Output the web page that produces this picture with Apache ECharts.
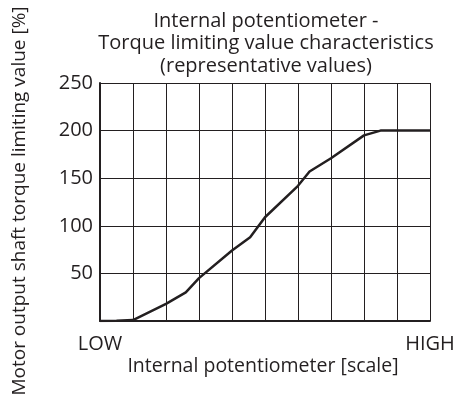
<!DOCTYPE html>
<html>
<head>
<meta charset="utf-8">
<script src="https://cdn.jsdelivr.net/npm/echarts@6/dist/echarts.min.js"></script>
<style>
  html, body { margin: 0; padding: 0; background: #fff; }
  #chart { width: 464px; height: 401px; }
</style>
</head>
<body>
<div id="chart"></div>
<script>
// Potentiometer position (0 = LOW, 10 = HIGH) vs torque limit [%]
const potPosition = [0, 0.5, 1, 2, 2.6, 3, 4, 4.55, 5, 6, 6.35, 7, 8, 8.5, 10];
const torqueLimit = [0, 0.2, 1, 18, 30, 45, 74, 88, 109, 142, 157, 171, 195, 200, 200];
const xEndLabels = { 0: 'LOW', 10: 'HIGH' };
const yTicks = [50, 100, 150, 200, 250];

const titleLines = [
  'Internal potentiometer -',
  'Torque limiting value characteristics',
  '(representative values)'
];
const xName = 'Internal potentiometer [scale]';
const yName = 'Motor output shaft torque limiting value [%]';

const ink = '#231f20';
const font = 'Open Sans';

const chart = echarts.init(document.getElementById('chart'), null, { renderer: 'canvas' });

function label(text, x, y, size, rotation) {
  return {
    type: 'text',
    x: x,
    y: y,
    rotation: rotation || 0,
    style: {
      text: text,
      fontFamily: font,
      fontSize: size,
      fill: ink,
      textAlign: 'center',
      textVerticalAlign: 'middle'
    }
  };
}

chart.setOption({
  animation: false,
  backgroundColor: '#fff',
  textStyle: { fontFamily: font, color: ink },
  graphic: [
    ...titleLines.map((t, i) => label(t, 266, 21 + i * 22.5, 20)),
    label(xName, 263, 366, 19.5),
    label(yName, 20, 201, 19, Math.PI / 2)
  ],
  grid: { left: 100, right: 34, top: 83, bottom: 80, containLabel: false },
  xAxis: {
    type: 'value',
    min: 0,
    max: 10,
    interval: 1,
    axisLine: { show: true, onZero: false, lineStyle: { color: ink, width: 2 } },
    axisTick: { show: false },
    axisLabel: {
      fontSize: 20,
      color: ink,
      margin: 13,
      formatter: v => xEndLabels[v] || ''
    },
    splitLine: { show: true, lineStyle: { color: ink, width: 1 } }
  },
  yAxis: {
    type: 'value',
    min: 0,
    max: 250,
    interval: 50,
    axisLine: { show: true, lineStyle: { color: ink, width: 2 } },
    axisTick: { show: false },
    axisLabel: {
      fontSize: 20,
      color: ink,
      margin: 7,
      formatter: v => (yTicks.indexOf(v) >= 0 ? String(v) : '')
    },
    splitLine: { show: true, lineStyle: { color: ink, width: 1 } }
  },
  series: [{
    type: 'line',
    data: potPosition.map((x, i) => [x, torqueLimit[i]]),
    showSymbol: false,
    symbol: 'none',
    lineStyle: { color: ink, width: 2.5 },
    z: 5
  }]
});
</script>
</body>
</html>
